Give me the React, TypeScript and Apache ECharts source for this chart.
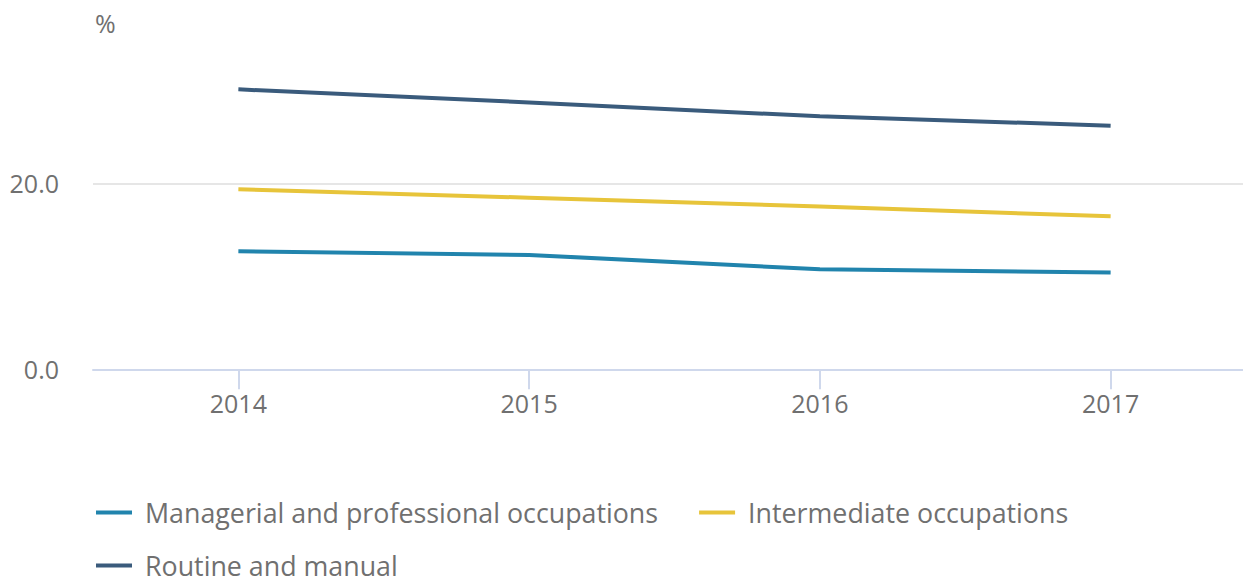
import React, { useEffect, useRef } from "react";
import * as echarts from "echarts";

const years = ["2014", "2015", "2016", "2017"];
const managerial = [12.7, 12.3, 10.75, 10.4];
const intermediate = [19.35, 18.45, 17.5, 16.45];
const routine = [30.1, 28.7, 27.2, 26.2];
const seriesNames = [
  "Managerial and professional occupations",
  "Intermediate occupations",
  "Routine and manual",
];
const colors = ["#2184AD", "#E7C43A", "#3A5B7C"];

// inner canvas is shifted up by this much inside a clipping wrapper
const SHIFT = 20;

export default function App() {
  const ref = useRef<HTMLDivElement>(null);
  useEffect(() => {
    document.body.style.margin = "0";
    if (!ref.current) return;
    const chart = echarts.init(ref.current, null, { renderer: "svg" });
    const font = "'Open Sans', sans-serif";
    const textColor = "#707070";
    const legendBase = {
      orient: "horizontal",
      left: 96,
      padding: 0,
      itemWidth: 36,
      itemHeight: 4,
      icon: "rect",
      itemGap: 41,
      selectedMode: false,
      textStyle: {
        fontFamily: font,
        fontSize: 26.8,
        color: textColor,
        padding: [0, 0, 0, 8],
      },
    };
    chart.setOption({
      animation: false,
      color: colors,
      grid: { left: 93, top: SHIFT - 2.7, width: 1163, height: 372, containLabel: false },
      legend: [
        { ...legendBase, top: SHIFT + 499, data: [seriesNames[0], seriesNames[1]] },
        { ...legendBase, top: SHIFT + 552, data: [seriesNames[2]] },
      ],
      graphic: [
        {
          type: "text",
          left: 95,
          top: SHIFT + 10,
          style: { text: "%", fontFamily: font, fontSize: 25, fill: textColor },
        },
      ],
      xAxis: {
        type: "category",
        data: years,
        boundaryGap: true,
        axisLine: { show: true, lineStyle: { color: "#CFD8EC", width: 2 } },
        axisTick: {
          show: true,
          alignWithLabel: true,
          length: 20,
          lineStyle: { color: "#CFD8EC", width: 2 },
        },
        axisLabel: {
          fontFamily: font,
          fontSize: 25,
          color: textColor,
          margin: 21,
        },
        splitLine: { show: false },
      },
      yAxis: {
        type: "value",
        min: 0,
        max: 40,
        interval: 20,
        axisLine: { show: false },
        axisTick: { show: false },
        axisLabel: {
          fontFamily: font,
          fontSize: 25,
          color: textColor,
          margin: 34,
          formatter: (v: number) => (v >= 40 ? "" : v.toFixed(1)),
        },
        splitLine: { show: true, lineStyle: { color: "#E6E6E6", width: 2 } },
      },
      series: [
        {
          name: seriesNames[0],
          type: "line",
          data: managerial,
          showSymbol: false,
          symbol: "none",
          lineStyle: { width: 4, color: colors[0] },
        },
        {
          name: seriesNames[1],
          type: "line",
          data: intermediate,
          showSymbol: false,
          symbol: "none",
          lineStyle: { width: 4, color: colors[1] },
        },
        {
          name: seriesNames[2],
          type: "line",
          data: routine,
          showSymbol: false,
          symbol: "none",
          lineStyle: { width: 4, color: colors[2] },
        },
      ],
    });
    return () => chart.dispose();
  }, []);
  return (
    <div style={{ width: 1243, height: 577, overflow: "hidden", position: "relative" }}>
      <div
        ref={ref}
        style={{ position: "absolute", left: 0, top: -SHIFT, width: 1290, height: 577 + SHIFT + 20 }}
      />
    </div>
  );
}
